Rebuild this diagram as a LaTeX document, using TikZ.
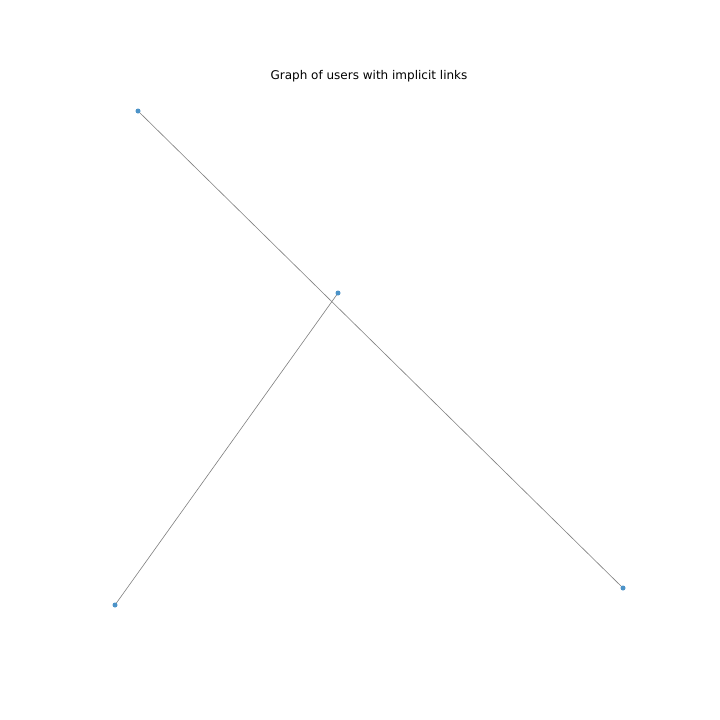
\documentclass[tikz,border=0pt]{standalone}
\usepackage{fontspec}
\setmainfont{DejaVu Sans}
\usetikzlibrary{backgrounds}
\definecolor{nodeblue}{HTML}{4C93C8}
\definecolor{edgegray}{HTML}{7F7F7F}
\tikzset{
  user/.style={circle,fill=nodeblue,inner sep=0pt,minimum size=5pt},
  link/.style={draw=edgegray,line width=0.6pt},
  px/.style={x=1pt,y=-1pt}
}
\begin{document}
\begin{tikzpicture}[px]
\useasboundingbox (0,0) rectangle (720,720);
\node[font=\fontsize{12}{14}\selectfont] (title) at (369,76) {Graph of users with implicit links};
\node[user] (a) at (138,111) {};
\node[user] (b) at (338,293) {};
\node[user] (c) at (115,605) {};
\node[user] (d) at (623,588) {};
\begin{scope}[on background layer]
\fill[white] (0,0) rectangle (720,720);
\draw[link] (a.center) -- (d.center);
\draw[link] (b.center) -- (c.center);
\end{scope}
\end{tikzpicture}
\end{document}
